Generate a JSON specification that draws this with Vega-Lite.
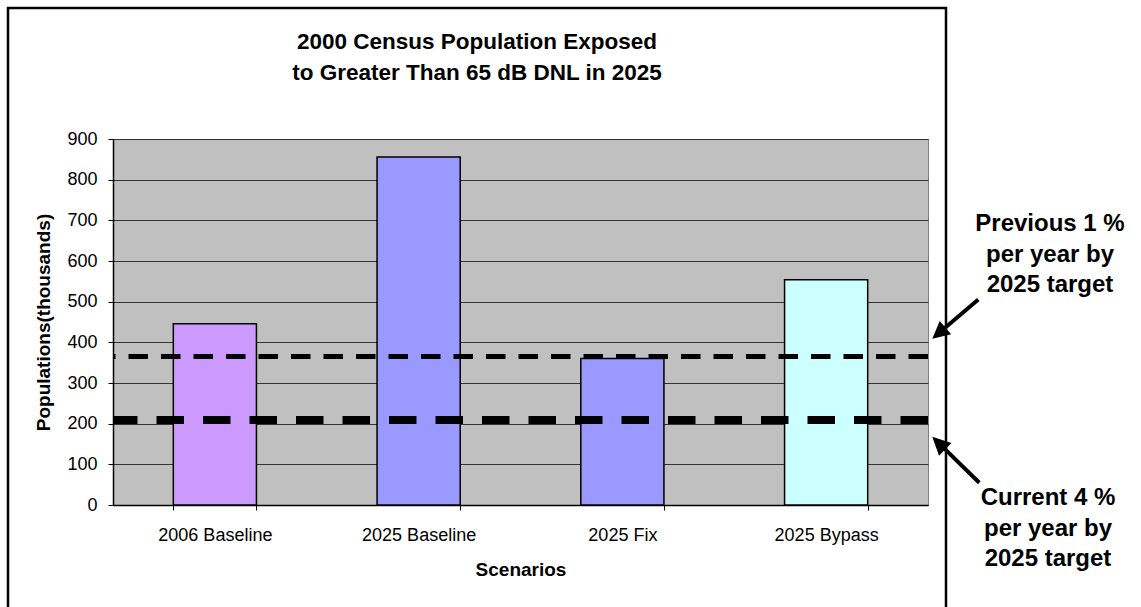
{
  "$schema": "https://vega.github.io/schema/vega-lite/v6.json",
  "width": 815,
  "height": 366,
  "autosize": {"type": "none"},
  "padding": {"left": 113, "top": 139, "right": 213, "bottom": 102},
  "background": "white",
  "datasets": {
    "scenarios": [
      {"scenario": "2006 Baseline", "population": 446},
      {"scenario": "2025 Baseline", "population": 856},
      {"scenario": "2025 Fix", "population": 360},
      {"scenario": "2025 Bypass", "population": 554}
    ],
    "targets": [
      {"target": "Previous 1 % per year by 2025 target", "population": 365, "label": ["Previous 1 %", "per year by", "2025 target"]},
      {"target": "Current 4 % per year by 2025 target", "population": 209, "label": ["Current 4 %", "per year by", "2025 target"]}
    ],
    "frame": [{"item": "chart border"}]
  },
  "title": {
    "text": ["2000 Census Population Exposed", "to Greater Than 65 dB DNL in 2025"],
    "font": "Liberation Sans",
    "fontSize": 22.5,
    "fontWeight": "bold",
    "color": "black",
    "anchor": "middle",
    "frame": "group",
    "dx": -43.5,
    "lineHeight": 31,
    "offset": -82
  },
  "config": {
    "font": "Liberation Sans",
    "view": {"fill": "#C0C0C0", "stroke": "#808080", "strokeWidth": 1}
  },
  "layer": [
    {
      "data": {"name": "frame"},
      "mark": {
        "type": "point",
        "x": {"expr": "width/2"},
        "y": {"expr": "height/2"},
        "xOffset": -43.5,
        "yOffset": -8,
        "shape": "M-1,-0.6525H1V0.6525H-1Z",
        "size": 879844,
        "filled": false,
        "stroke": "black",
        "strokeWidth": 2.5,
        "opacity": 1
      },
      "encoding": {}
    },
    {
      "data": {"name": "scenarios"},
      "mark": {"type": "bar", "stroke": "black", "strokeWidth": 1.5},
      "encoding": {
        "x": {
          "field": "scenario",
          "type": "nominal",
          "sort": null,
          "scale": {"paddingInner": 0.592, "paddingOuter": 0.296},
          "axis": {
            "title": "Scenarios",
            "labelAngle": 0,
            "tickBand": "extent",
            "tickSize": 5,
            "tickColor": "black",
            "domainColor": "black",
            "domainWidth": 1.5,
            "labelFontSize": 18,
            "labelColor": "black",
            "labelPadding": 16,
            "titleFontSize": 19,
            "titleFontWeight": "bold",
            "titleColor": "black",
            "titlePadding": 16,
            "grid": false
          }
        },
        "y": {
          "field": "population",
          "type": "quantitative",
          "scale": {"domain": [0, 900], "nice": false},
          "axis": {
            "values": [0, 100, 200, 300, 400, 500, 600, 700, 800, 900],
            "grid": true,
            "gridColor": "#333333",
            "gridWidth": 1,
            "domainColor": "black",
            "domainWidth": 1.5,
            "tickColor": "black",
            "tickSize": 5,
            "labelFontSize": 18,
            "labelColor": "black",
            "labelPadding": 11,
            "title": "Populations(thousands)",
            "titleFontSize": 19,
            "titleFontWeight": "bold",
            "titleColor": "black",
            "titlePadding": 13
          }
        },
        "color": {
          "field": "scenario",
          "type": "nominal",
          "scale": {
            "domain": ["2006 Baseline", "2025 Baseline", "2025 Fix", "2025 Bypass"],
            "range": ["#CC99FF", "#9999FF", "#9999FF", "#CCFFFF"]
          },
          "legend": null
        }
      }
    },
    {
      "data": {"name": "targets"},
      "transform": [{"filter": {"field": "target", "equal": "Previous 1 % per year by 2025 target"}}],
      "mark": {"type": "rule", "color": "black", "strokeWidth": 5, "strokeDash": [19.5, 13], "strokeCap": "butt"},
      "encoding": {"y": {"field": "population", "type": "quantitative"}}
    },
    {
      "data": {"name": "targets"},
      "transform": [{"filter": {"field": "target", "equal": "Current 4 % per year by 2025 target"}}],
      "mark": {"type": "rule", "color": "black", "strokeWidth": 8, "strokeDash": [27.5, 19], "strokeCap": "butt"},
      "encoding": {"y": {"field": "population", "type": "quantitative"}}
    },
    {
      "data": {"name": "targets"},
      "transform": [{"filter": {"field": "target", "equal": "Previous 1 % per year by 2025 target"}}],
      "mark": {"type": "text", "x": "width", "dx": 122, "dy": -125.4, "align": "center", "baseline": "alphabetic", "fontSize": 24, "fontWeight": "bold", "color": "black", "lineHeight": 30.5},
      "encoding": {"y": {"field": "population", "type": "quantitative"}, "text": {"field": "label"}}
    },
    {
      "data": {"name": "targets"},
      "transform": [{"filter": {"field": "target", "equal": "Current 4 % per year by 2025 target"}}],
      "mark": {"type": "text", "x": "width", "dx": 120, "dy": 85, "align": "center", "baseline": "alphabetic", "fontSize": 24, "fontWeight": "bold", "color": "black", "lineHeight": 30.5},
      "encoding": {"y": {"field": "population", "type": "quantitative"}, "text": {"field": "label"}}
    },
    {
      "data": {"name": "targets"},
      "transform": [{"filter": {"field": "target", "equal": "Previous 1 % per year by 2025 target"}}],
      "mark": {"type": "point", "x": "width", "xOffset": 27.3, "yOffset": -37.4, "shape": "M-1,-0.065L0.43,-0.065L0.43,-0.29L1,0L0.43,0.29L0.43,0.065L-1,0.065Z", "size": 3660, "angle": 139.5, "filled": true, "color": "black", "opacity": 1, "strokeWidth": 0},
      "encoding": {"y": {"field": "population", "type": "quantitative"}}
    },
    {
      "data": {"name": "targets"},
      "transform": [{"filter": {"field": "target", "equal": "Current 4 % per year by 2025 target"}}],
      "mark": {"type": "point", "x": "width", "xOffset": 27.8, "yOffset": 39.7, "shape": "M-1,-0.06L0.45,-0.06L0.45,-0.27L1,0L0.45,0.27L0.45,0.06L-1,0.06Z", "size": 4330, "angle": 224.4, "filled": true, "color": "black", "opacity": 1, "strokeWidth": 0},
      "encoding": {"y": {"field": "population", "type": "quantitative"}}
    }
  ]
}
